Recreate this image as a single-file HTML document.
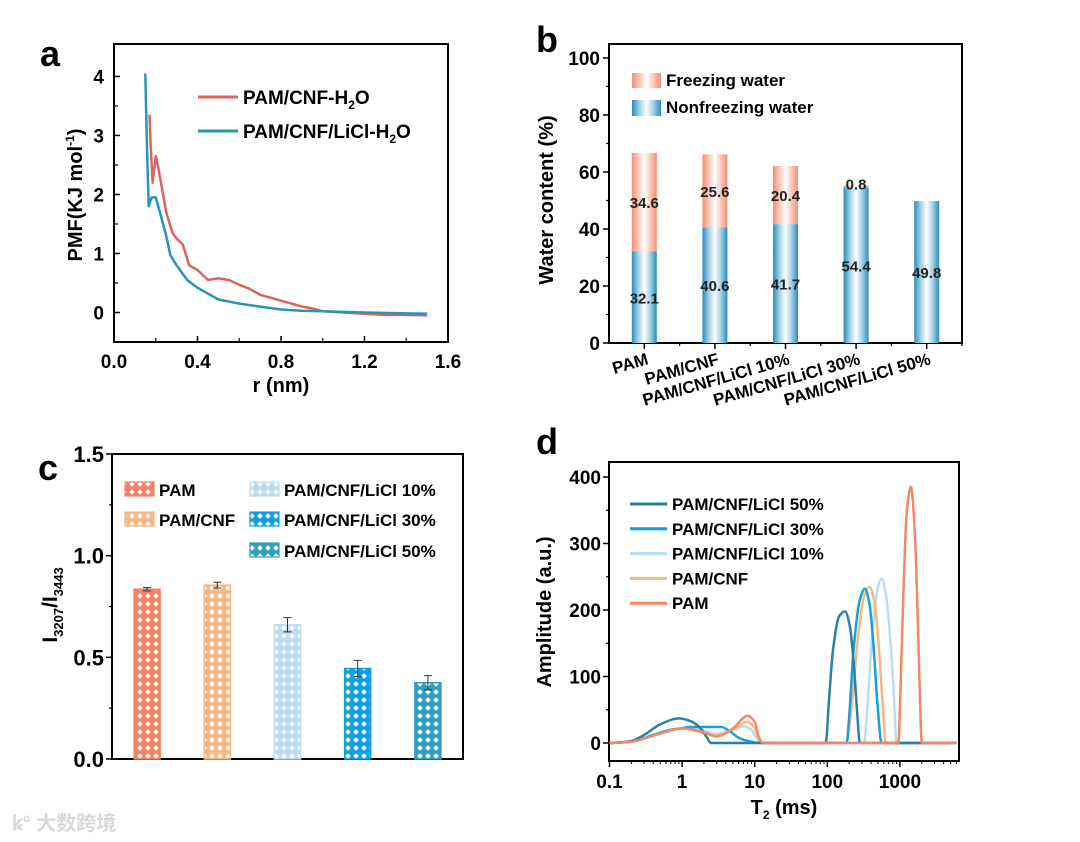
<!DOCTYPE html>
<html><head><meta charset="utf-8"><style>
html,body{margin:0;padding:0;background:#fff;}
svg{display:block;font-family:"Liberation Sans",Arial,sans-serif;font-weight:bold;}
</style></head><body>
<svg id="fig" width="1080" height="842" viewBox="0 0 1080 842" xmlns="http://www.w3.org/2000/svg">
<defs>
<linearGradient id="gBlue" x1="0" x2="1" y1="0" y2="0">
<stop offset="0" stop-color="#2a8dba"/><stop offset="0.25" stop-color="#9dcfe4"/><stop offset="0.5" stop-color="#ffffff"/><stop offset="0.75" stop-color="#9dcfe4"/><stop offset="1" stop-color="#2a8dba"/>
</linearGradient>
<linearGradient id="gOrange" x1="0" x2="1" y1="0" y2="0">
<stop offset="0" stop-color="#f39077"/><stop offset="0.25" stop-color="#f9c6b6"/><stop offset="0.5" stop-color="#ffffff"/><stop offset="0.75" stop-color="#f9c6b6"/><stop offset="1" stop-color="#f39077"/>
</linearGradient>
</defs>

<g>
<text x="40" y="66" font-size="36">a</text>
<rect x="114" y="44" width="334" height="298" fill="none" stroke="#000" stroke-width="2"/>
<text x="281" y="392" font-size="20" text-anchor="middle">r (nm)</text>
<text transform="translate(82,195) rotate(-90)" font-size="20" text-anchor="middle">PMF(KJ mol<tspan font-size="12" dy="-8">-1</tspan><tspan dy="8">)</tspan></text>
<line x1="198" y1="97" x2="238" y2="97" stroke="#d9645f" stroke-width="3"/>
<text x="243" y="104" font-size="19">PAM/CNF-H<tspan font-size="12" dy="5">2</tspan><tspan dy="-5">O</tspan></text>
<line x1="198" y1="131" x2="238" y2="131" stroke="#2a93b8" stroke-width="3"/>
<text x="243" y="138" font-size="19">PAM/CNF/LiCl-H<tspan font-size="12" dy="5">2</tspan><tspan dy="-5">O</tspan></text>
<g id="a-plot"></g>
</g>

<g>
<text x="536" y="52" font-size="36">b</text>
<rect x="609" y="44" width="353" height="299" fill="none" stroke="#000" stroke-width="2"/>
<text transform="translate(553,200) rotate(-90)" font-size="20" text-anchor="middle">Water content (%)</text>
<rect x="632" y="73" width="29" height="15" fill="url(#gOrange)"/>
<text x="666" y="86" font-size="17">Freezing water</text>
<rect x="632" y="100" width="29" height="16" fill="url(#gBlue)"/>
<text x="666" y="113" font-size="17">Nonfreezing water</text>
<g id="b-plot"></g>
</g>

<g>
<text x="38" y="480" font-size="36">c</text>
<rect x="112" y="454" width="351" height="305" fill="none" stroke="#000" stroke-width="2"/>
<text transform="translate(57,605) rotate(-90)" font-size="21" text-anchor="middle">I<tspan font-size="13" dy="6">3207</tspan><tspan dy="-6">/I</tspan><tspan font-size="13" dy="6">3443</tspan></text>
<g id="c-legend"></g>
<g id="c-plot"></g>
<text x="12" y="830" font-size="20" fill="#d8d8d8" font-family="'Liberation Sans','Noto Sans CJK SC',sans-serif">ꝃ° 大数跨境</text>
</g>

<g>
<text x="536" y="454" font-size="36">d</text>
<rect x="609" y="462" width="350" height="299" fill="none" stroke="#000" stroke-width="2"/>
<text x="784" y="814" font-size="20" text-anchor="middle">T<tspan font-size="12" dy="5">2</tspan><tspan dy="-5"> (ms)</tspan></text>
<text transform="translate(551,612) rotate(-90)" font-size="20" text-anchor="middle">Amplitude (a.u.)</text>
<g id="d-legend"></g>
<g id="d-plot"></g>
</g>
</svg>

<script>
// ---------- Panel a data ----------
var aRedR = [0.17,0.175,0.185,0.2,0.21,0.225,0.25,0.28,0.3,0.33,0.36,0.4,0.45,0.5,0.55,0.6,0.65,0.7,0.75,0.8,0.85,0.9,0.95,1.0,1.1,1.2,1.3,1.4,1.5];
var aRedV = [3.35,2.9,2.2,2.65,2.5,2.2,1.7,1.35,1.25,1.15,0.8,0.72,0.55,0.58,0.55,0.47,0.4,0.3,0.25,0.2,0.15,0.1,0.07,0.02,0.0,-0.02,-0.04,-0.04,-0.05];
var aBlueR = [0.15,0.158,0.166,0.18,0.2,0.22,0.25,0.27,0.3,0.35,0.4,0.45,0.5,0.6,0.7,0.8,0.9,1.0,1.2,1.5];
var aBlueV = [4.05,2.8,1.8,1.95,1.95,1.7,1.3,0.97,0.8,0.55,0.42,0.32,0.22,0.15,0.1,0.05,0.03,0.02,0.0,-0.02];
var aXTicks = [0.0,0.4,0.8,1.2,1.6];
var aYTicks = [0,1,2,3,4];

// ---------- Panel b data ----------
var bCats = ["PAM","PAM/CNF","PAM/CNF/LiCl 10%","PAM/CNF/LiCl 30%","PAM/CNF/LiCl 50%"];
var bNonfreezing = [32.1,40.6,41.7,54.4,49.8];
var bFreezing = [34.6,25.6,20.4,0.8,0];
var bYTicks = [0,20,40,60,80,100];

// ---------- Panel c data ----------
var cCats = ["PAM","PAM/CNF","PAM/CNF/LiCl 10%","PAM/CNF/LiCl 30%","PAM/CNF/LiCl 50%"];
var cValues = [0.835,0.855,0.66,0.445,0.375];
var cErrors = [0.008,0.014,0.035,0.04,0.035];
var cYTicks = [0.0,0.5,1.0,1.5];

// ---------- Panel d data ----------
var dNames = ["PAM/CNF/LiCl 50%","PAM/CNF/LiCl 30%","PAM/CNF/LiCl 10%","PAM/CNF","PAM"];
var d50T = [0.1,0.15,0.2,0.3,0.5,0.9,1.3,1.8,2.2,2.5,10,95,105,120,145,175,205,235,260,280,6000];
var d50A = [0,1,3,12,28,37,33,22,8,0,0,0,60,140,190,198,175,110,40,0,0];
var d30T = [0.1,0.2,0.4,0.7,1,1.2,2,3.5,4.5,6,8,12,185,200,230,280,330,380,430,490,560,6000];
var d30A = [0,2,12,20,22,24,24,24,18,8,3,0,0,40,140,215,232,210,150,60,0,0];
var d10T = [0.1,0.2,0.4,0.7,1,2,3,5,7,9,11,13,320,360,420,500,560,640,720,820,900,6000];
var d10A = [0,2,11,19,22,18,14,20,25,20,5,0,0,60,170,235,247,225,170,80,0,0];
var dCnfT = [0.1,0.2,0.4,0.7,1,2,2.8,5,8,10,11.5,13,180,210,260,320,380,440,500,570,640,6000];
var dCnfA = [0,2,11,19,22,15,11,20,32,22,6,0,0,40,150,220,235,215,160,70,0,0];
var dPamT = [0.1,0.2,0.4,0.7,1,2,3,5,8,10,11.5,13,950,1020,1120,1250,1420,1600,1750,1900,2000,6000];
var dPamA = [0,2,11,19,22,16,10,22,41,32,8,0,0,80,230,350,385,320,200,60,0,0];
var dYTicks = [0,100,200,300,400];
var dXTicks = [0.1,1,10,100,1000];
var dXLabels = ["0.1","1","10","100","1000"];

var NS = "http://www.w3.org/2000/svg";
function mk(parent, tag, attrs, text) {
  var el = document.createElementNS(NS, tag);
  for (var k in attrs) el.setAttribute(k, attrs[k]);
  if (text !== undefined) el.textContent = text;
  parent.appendChild(el);
  return el;
}
function nm(el, name) {
  
  
}
// monotone cubic (Fritsch-Carlson) path, no overshoot
function monoPath(pts) {
  var n = pts.length, dx = [], s = [], m = [];
  for (var i = 0; i < n - 1; i++) {
    dx[i] = pts[i + 1][0] - pts[i][0];
    s[i] = dx[i] === 0 ? 0 : (pts[i + 1][1] - pts[i][1]) / dx[i];
  }
  m[0] = s[0]; m[n - 1] = s[n - 2];
  for (i = 1; i < n - 1; i++) {
    if (s[i - 1] * s[i] <= 0) m[i] = 0;
    else m[i] = 3 * (dx[i - 1] + dx[i]) / ((2 * dx[i] + dx[i - 1]) / s[i - 1] + (dx[i] + 2 * dx[i - 1]) / s[i]);
  }
  var d = "M" + pts[0][0].toFixed(1) + "," + pts[0][1].toFixed(1);
  for (i = 0; i < n - 1; i++) {
    var h = dx[i] / 3;
    d += " C" + (pts[i][0] + h).toFixed(1) + "," + (pts[i][1] + m[i] * h).toFixed(1) + " " +
      (pts[i + 1][0] - h).toFixed(1) + "," + (pts[i + 1][1] - m[i + 1] * h).toFixed(1) + " " +
      pts[i + 1][0].toFixed(1) + "," + pts[i + 1][1].toFixed(1);
  }
  return d;
}

// ---------- Panel a ----------
(function () {
  var g = document.getElementById('a-plot');
  var x = function (v) { return 114 + (v - 0) / 1.6 * 334; };
  var y = function (v) { return 342 - (v + 0.5) / 5.05 * 298; };
  aXTicks.forEach(function (t) {
    var l = mk(g, 'line', {x1: x(t), x2: x(t), y1: 342, y2: 336, stroke: '#000', 'stroke-width': 1.5});
    nm(l, 'x-tick-a');
    var tx = mk(g, 'text', {x: x(t), y: 368, 'font-size': 19, 'text-anchor': 'middle'}, t.toFixed(1));
    nm(tx, 'x-tick-label-a');
    if (t < 1.6) {
      var m = mk(g, 'line', {x1: x(t + 0.2), x2: x(t + 0.2), y1: 342, y2: 338, stroke: '#000', 'stroke-width': 1.2});
      nm(m, 'x-minor-tick-a');
    }
  });
  aYTicks.forEach(function (t) {
    var l = mk(g, 'line', {x1: 114, x2: 120, y1: y(t), y2: y(t), stroke: '#000', 'stroke-width': 1.5});
    nm(l, 'y-tick-a');
    var tx = mk(g, 'text', {x: 104, y: y(t) + 7, 'font-size': 19, 'text-anchor': 'end'}, String(t));
    nm(tx, 'y-tick-label-a');
    var m = mk(g, 'line', {x1: 114, x2: 118, y1: y(t - 0.5), y2: y(t - 0.5), stroke: '#000', 'stroke-width': 1.2});
    nm(m, 'y-minor-tick-a');
  });
  var rp = aRedR.map(function (r, i) { return x(r).toFixed(1) + ',' + y(aRedV[i]).toFixed(1); }).join(' ');
  var red = mk(g, 'polyline', {points: rp, fill: 'none', stroke: '#d9645f', 'stroke-width': 2.5, 'stroke-linejoin': 'round'});
  nm(red, 'series-pam-cnf-h2o');
  var bp = aBlueR.map(function (r, i) { return x(r).toFixed(1) + ',' + y(aBlueV[i]).toFixed(1); }).join(' ');
  var blue = mk(g, 'polyline', {points: bp, fill: 'none', stroke: '#2a93b8', 'stroke-width': 2.5, 'stroke-linejoin': 'round'});
  nm(blue, 'series-pam-cnf-licl-h2o');
})();

// ---------- Panel b ----------
(function () {
  var g = document.getElementById('b-plot');
  var x = function (i) { return 609 + (i + 0.5) / 5 * 353; };
  var y = function (v) { return 343 - v / 104.9 * 299; };
  bYTicks.forEach(function (t) {
    var l = mk(g, 'line', {x1: 603, x2: 609, y1: y(t), y2: y(t), stroke: '#000', 'stroke-width': 1.5});
    nm(l, 'y-tick-b');
    var tx = mk(g, 'text', {x: 600, y: y(t) + 7, 'font-size': 19, 'text-anchor': 'end'}, String(t));
    nm(tx, 'y-tick-label-b');
    if (t < 100) {
      var m = mk(g, 'line', {x1: 606, x2: 609, y1: y(t + 10), y2: y(t + 10), stroke: '#000', 'stroke-width': 1.2});
      nm(m, 'y-minor-tick-b');
    }
  });
  bCats.forEach(function (c, i) {
    var cx = x(i), w = 25;
    var l = mk(g, 'line', {x1: cx, x2: cx, y1: 343, y2: 349, stroke: '#000', 'stroke-width': 1.5});
    nm(l, 'x-tick-b');
    var mm = mk(g, 'line', {x1: cx + 35.3, x2: cx + 35.3, y1: 343, y2: 346, stroke: '#000', 'stroke-width': 1.2});
    nm(mm, 'x-minor-tick-b');
    var nf = bNonfreezing[i], fr = bFreezing[i];
    var r1 = mk(g, 'rect', {x: cx - w / 2, y: y(nf), width: w, height: y(0) - y(nf), fill: 'url(#gBlue)'});
    nm(r1, 'bar-nonfreezing');
    if (fr > 0) {
      var r2 = mk(g, 'rect', {x: cx - w / 2, y: y(nf + fr), width: w, height: y(nf) - y(nf + fr), fill: 'url(#gOrange)'});
      nm(r2, 'bar-freezing');
      var ty = fr < 3 ? y(nf + fr) + 4 : y(nf + fr / 2) + 6;
      var t2 = mk(g, 'text', {x: cx, y: ty, 'font-size': 15, 'text-anchor': 'middle', fill: '#222'}, fr.toFixed(1));
      nm(t2, 'value-label-freezing');
    }
    var t1 = mk(g, 'text', {x: cx, y: y(nf / 2) + 6, 'font-size': 15, 'text-anchor': 'middle', fill: '#222'}, nf.toFixed(1));
    nm(t1, 'value-label-nonfreezing');
    var lab = mk(g, 'text', {transform: 'translate(' + (cx + 5) + ',364) rotate(-16)', 'font-size': 17, 'text-anchor': 'end'}, c);
    nm(lab, 'x-tick-label-b');
  });
})();

// ---------- Panel c ----------
var cColors = ['#f08266', '#f6b784', '#bcdcf1', '#0fa0dc', '#2f9ebf'];
(function () {
  var defs = document.querySelector('defs');
  cColors.forEach(function (col, i) {
    var p = mk(defs, 'pattern', {id: 'hatch' + i, width: 8, height: 8, patternUnits: 'userSpaceOnUse'});
    mk(p, 'rect', {x: 0, y: 0, width: 8, height: 8, fill: col});
    mk(p, 'polygon', {points: '4,1.2 6.8,4 4,6.8 1.2,4', fill: '#fff'});
  });
  var g = document.getElementById('c-plot');
  var x = function (i) { return 112 + (i + 0.5) / 5 * 351; };
  var y = function (v) { return 759 - v / 1.5 * 305; };
  cYTicks.forEach(function (t) {
    var l = mk(g, 'line', {x1: 106, x2: 112, y1: y(t), y2: y(t), stroke: '#000', 'stroke-width': 1.5});
    nm(l, 'y-tick-c');
    var tx = mk(g, 'text', {x: 104, y: y(t) + 8, 'font-size': 22, 'text-anchor': 'end'}, t.toFixed(1));
    nm(tx, 'y-tick-label-c');
    if (t < 1.5) {
      var m = mk(g, 'line', {x1: 109, x2: 112, y1: y(t + 0.25), y2: y(t + 0.25), stroke: '#000', 'stroke-width': 1.2});
      nm(m, 'y-minor-tick-c');
    }
  });
  cValues.forEach(function (v, i) {
    var cx = x(i), w = 26;
    var r = mk(g, 'rect', {x: cx - w / 2, y: y(v), width: w, height: y(0) - y(v), fill: 'url(#hatch' + i + ')', stroke: cColors[i], 'stroke-width': 1.5});
    nm(r, 'bar-c');
    var e = cErrors[i];
    var el = mk(g, 'path', {d: 'M' + cx + ',' + y(v + e) + 'V' + y(v - e) + 'M' + (cx - 4) + ',' + y(v + e) + 'H' + (cx + 4) + 'M' + (cx - 4) + ',' + y(v - e) + 'H' + (cx + 4), stroke: '#333', 'stroke-width': 1, fill: 'none'});
    nm(el, 'error-bar-c');
  });
  var lg = document.getElementById('c-legend');
  var pos = [[125, 482], [125, 512], [250, 482], [250, 512], [250, 543]];
  cCats.forEach(function (c, i) {
    var sw = mk(lg, 'rect', {x: pos[i][0], y: pos[i][1], width: 29, height: 14, fill: 'url(#hatch' + i + ')', stroke: cColors[i], 'stroke-width': 1.2});
    nm(sw, 'legend-swatch-c');
    var tx = mk(lg, 'text', {x: pos[i][0] + 34, y: pos[i][1] + 14, 'font-size': 17}, c);
    nm(tx, 'legend-label-c');
  });
})();

// ---------- Panel d ----------
var dColors = ['#2b7fa6', '#19a0d8', '#bcdcf1', '#f6b784', '#f28866'];
(function () {
  var g = document.getElementById('d-plot');
  var x = function (t) { return 609.5 + (Math.log10(t) + 1) * 72.6; };
  var y = function (v) { return 743 - v * 0.665; };
  dYTicks.forEach(function (t) {
    var l = mk(g, 'line', {x1: 603, x2: 609, y1: y(t), y2: y(t), stroke: '#000', 'stroke-width': 1.5});
    nm(l, 'y-tick-d');
    var tx = mk(g, 'text', {x: 601, y: y(t) + 7, 'font-size': 19, 'text-anchor': 'end'}, String(t));
    nm(tx, 'y-tick-label-d');
    if (t < 400) {
      var m = mk(g, 'line', {x1: 606, x2: 609, y1: y(t + 50), y2: y(t + 50), stroke: '#000', 'stroke-width': 1.2});
      nm(m, 'y-minor-tick-d');
    }
  });
  dXTicks.forEach(function (t, i) {
    var l = mk(g, 'line', {x1: x(t), x2: x(t), y1: 761, y2: 767, stroke: '#000', 'stroke-width': 1.5});
    nm(l, 'x-tick-d');
    var tx = mk(g, 'text', {x: x(t), y: 788, 'font-size': 19, 'text-anchor': 'middle'}, dXLabels[i]);
    nm(tx, 'x-tick-label-d');
  });
  for (var dec = 0.1; dec < 6000; dec *= 10) {
    for (var k = 2; k <= 9; k++) {
      var v = dec * k;
      if (x(v) > 959) break;
      var m = mk(g, 'line', {x1: x(v), x2: x(v), y1: 761, y2: 764, stroke: '#000', 'stroke-width': 1});
      nm(m, 'x-minor-tick-d');
    }
  }
  var sets = [[d50T, d50A], [d30T, d30A], [d10T, d10A], [dCnfT, dCnfA], [dPamT, dPamA]];
  var order = [2, 3, 1, 0, 4];
  order.forEach(function (si) {
    var T = sets[si][0], A = sets[si][1];
    var pts = T.map(function (t, i) { return [x(t), y(A[i])]; });
    var p = mk(g, 'path', {d: monoPath(pts), fill: 'none', stroke: dColors[si], 'stroke-width': 2.5, 'stroke-linejoin': 'round'});
    nm(p, 'series-d-line');
  });
  var lg = document.getElementById('d-legend');
  dNames.forEach(function (n, i) {
    var yy = 504 + i * 24.8;
    var l = mk(lg, 'line', {x1: 630, x2: 667, y1: yy, y2: yy, stroke: dColors[i], 'stroke-width': 3});
    nm(l, 'legend-line-d');
    var tx = mk(lg, 'text', {x: 672, y: yy + 6, 'font-size': 17}, n);
    nm(tx, 'legend-label-d');
  });
})();
</script>
</body></html>
